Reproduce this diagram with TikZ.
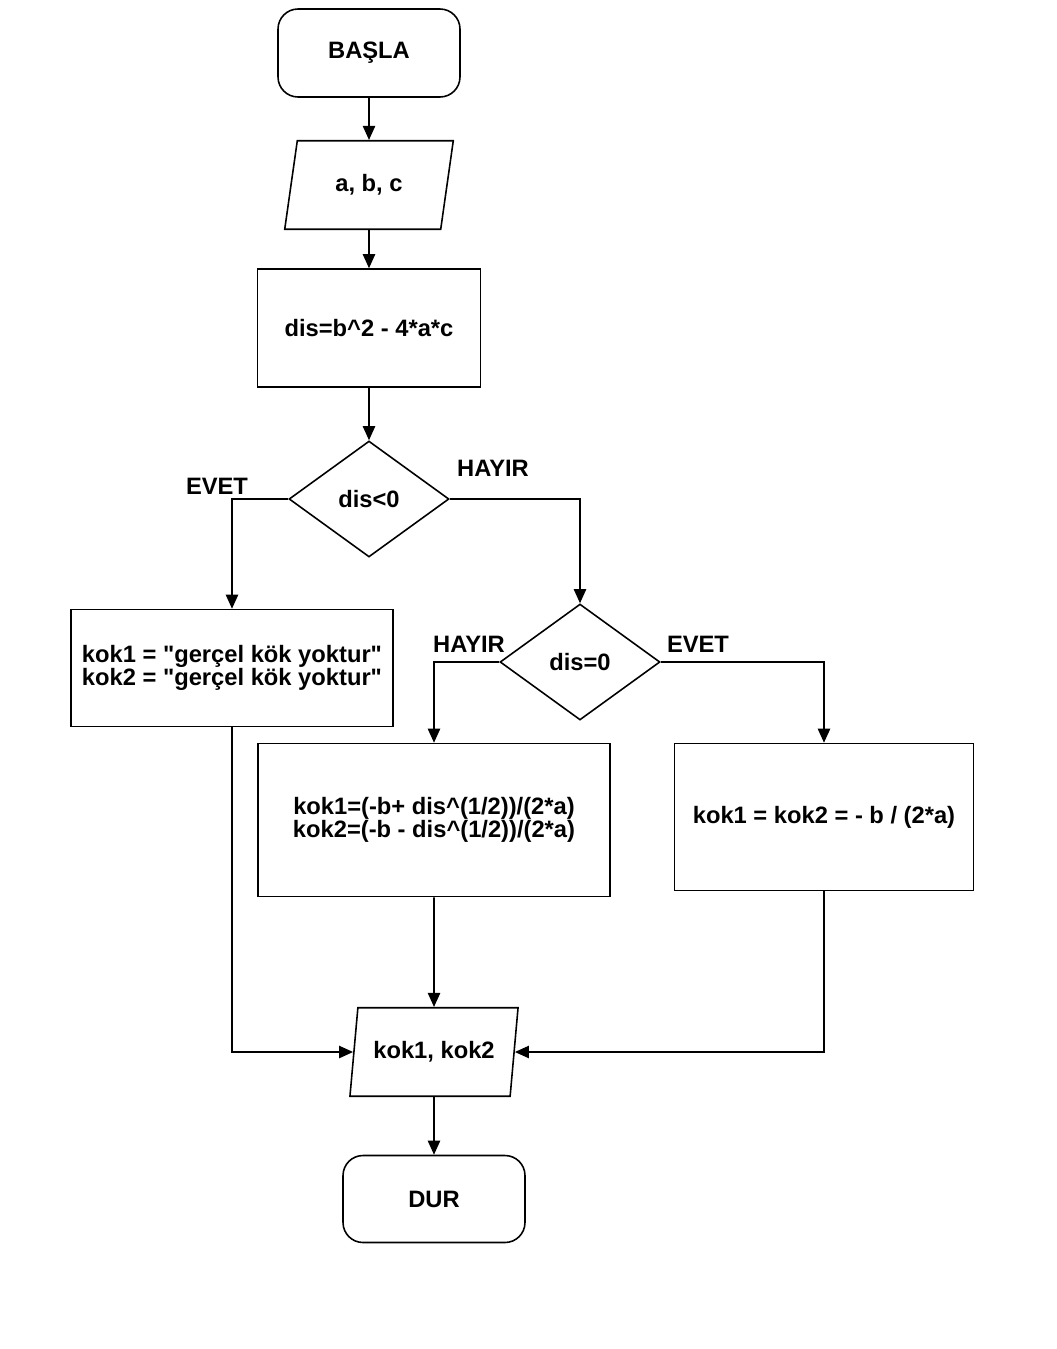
\documentclass[tikz,border=0pt]{standalone}
\usepackage{fontspec}
\setmainfont{Liberation Sans}
\usetikzlibrary{shapes.geometric,arrows.meta}

\begin{document}
\begin{tikzpicture}[x=0.02cm,y=-0.02cm,
    terminal/.style={draw,rounded corners=0.4cm,minimum width=3.64cm,minimum height=1.76cm},
    io/.style={draw,trapezium,trapezium left angle=78,trapezium right angle=102,
        trapezium stretches=true,minimum width=3.38cm,minimum height=1.77cm},
    process/.style={draw,rectangle,align=center},
    decision/.style={draw,diamond,aspect=1.4,minimum width=3.2cm,minimum height=2.32cm}]

    \useasboundingbox (0,0) rectangle (1056,1349);

    \begin{scope}[every node/.style={line width=0.9pt,font=\bfseries\fontsize{13.5}{13.2}\selectfont}]
        \node[terminal] (start) at (369,53) {BAŞLA};
        \node[io] (input) at (369,185) {a, b, c};
        \node[process,minimum width=4.46cm,minimum height=2.36cm] (calc) at (369,328) {dis=b\textasciicircum2 - 4*a*c};
        \node[decision] (cond1) at (369,499) {dis<0};
        \node[process,minimum width=6.44cm,minimum height=2.34cm] (noroot) at (232,668)
            {kok1 = \textquotedbl gerçel kök yoktur\textquotedbl\\kok2 = \textquotedbl gerçel kök yoktur\textquotedbl};
        \node[decision] (cond2) at (580,662) {dis=0};
        \node[process,minimum width=7.04cm,minimum height=3.06cm] (tworoot) at (434,820)
            {kok1=(-b+ dis\textasciicircum(1/2))/(2*a)\\kok2=(-b - dis\textasciicircum(1/2))/(2*a)};
        \node[process,minimum width=5.98cm,minimum height=2.94cm] (oneroot) at (824,817)
            {kok1 = kok2 = - b / (2*a)};
        \node[io] (output) at (434,1052) {kok1, kok2};
        \node[terminal,minimum height=1.74cm] (stop) at (434,1199) {DUR};
        % branch labels
        \node (yes1) at (217,486) {EVET};
        \node (no1) at (493,468) {HAYIR};
        \node (no2) at (469,644) {HAYIR};
        \node (yes2) at (698,644) {EVET};
    \end{scope}

    \begin{scope}[every path/.style={-{Triangle[width=7pt,length=8pt]},line width=0.9pt}]
        \draw (start) -- (input);
        \draw (input) -- (calc);
        \draw (calc) -- (cond1);
        \draw (cond1.west) -| (noroot.north);
        \draw (cond1.east) -| (cond2.north);
        \draw (cond2.west) -| (tworoot.north);
        \draw (cond2.east) -| (oneroot.north);
        \draw (tworoot) -- (output);
        \draw (noroot.south) |- (output.west);
        \draw (oneroot.south) |- (output.east);
        \draw (output) -- (stop);
    \end{scope}
\end{tikzpicture}
\end{document}
